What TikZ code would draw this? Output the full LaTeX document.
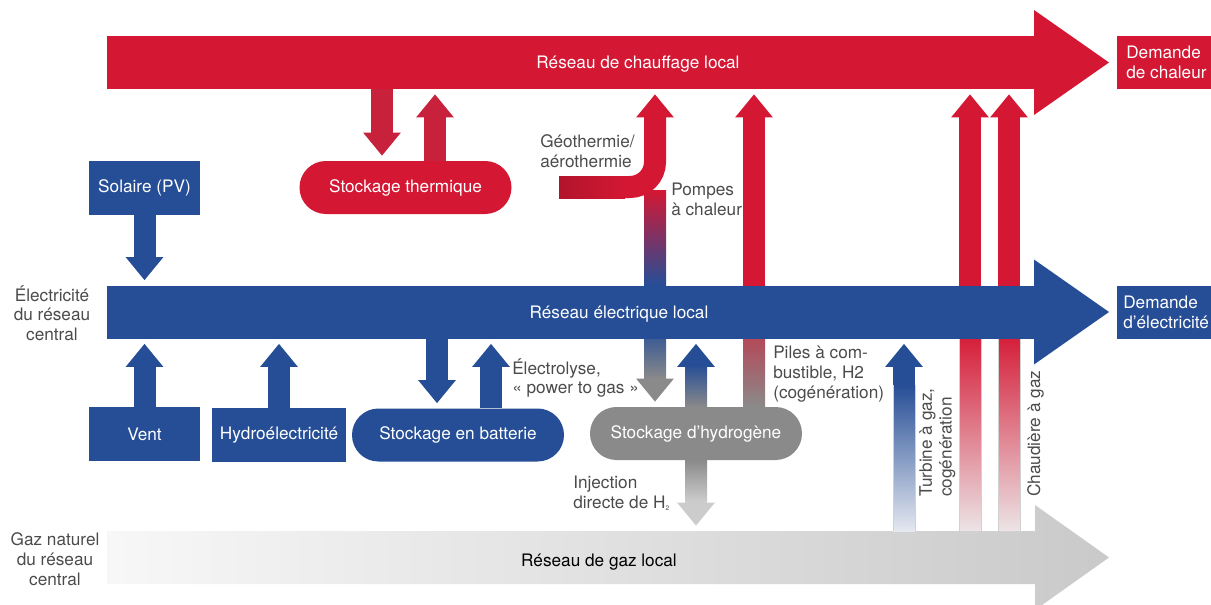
\documentclass[tikz,border=0pt]{standalone}
\usepackage{fontspec}
\setmainfont{TeX Gyre Heros}
\usetikzlibrary{arrows.meta,calc,backgrounds}

\definecolor{heatred}{RGB}{212,23,51}
\definecolor{heatdark}{RGB}{200,33,60}
\definecolor{geodark}{RGB}{178,20,44}
\definecolor{elecblue}{RGB}{38,78,150}
\definecolor{htwogray}{RGB}{138,138,138}
\definecolor{labelgray}{RGB}{75,75,75}
\definecolor{fadered}{RGB}{236,228,230}
\definecolor{fadeblue}{RGB}{228,232,240}

\tikzset{
  every node/.style={font=\fontsize{12.9}{14.8}\selectfont},
  bar/.style={minimum width=696pt, minimum height=39.75pt, inner sep=0pt},
  box/.style={fill=elecblue, text=white, minimum height=40.5pt, inner sep=0pt},
  tank/.style={text=white, minimum width=159pt, minimum height=39.75pt, rounded corners=19.8pt, inner sep=0pt},
  note/.style={text=labelgray, align=left, inner sep=0pt},
  flow/.style={line width=16.5pt, -{Triangle[width=27pt,length=17.25pt]}, shorten >=3.75pt}
}

\begin{document}
\begin{tikzpicture}[x=0.75pt,y=-0.75pt]
  \useasboundingbox (0,0) rectangle (1211,604);

  % the three networks
  \node[bar, fill=heatred] (heat) at (571,62.5) {};
  \node[bar, fill=elecblue] (elec) at (571,312) {};
  \node[bar] (gas) at (571,557.5) {};
  \fill[heatred] (1034,10) -- (1109,62.5) -- (1034,115) -- cycle;
  \fill[elecblue] (1034,259.5) -- (1109,312) -- (1034,364.5) -- cycle;
  \begin{scope}[on background layer]
    \shade[left color=gray!6, middle color=gray!11, right color=gray!42]
      (107,531) -- (1035,531) -- (1035,505) -- (1109,557.5) -- (1035,610) -- (1035,584) -- (107,584) -- cycle;
  \end{scope}
  \node[text=white] (heatname) at (638,64.5) {Réseau de chauffage local};
  \node[text=white] (elecname) at (619,314) {Réseau électrique local};
  \node (gasname) at (599,562) {Réseau de gaz local};

  % sources, storage, demand
  \node[box, minimum width=83.25pt] (solar) at (144.5,188) {Solaire (PV)};
  \node[box, minimum width=83.25pt] (wind) at (144.5,434) {Vent};
  \node[box, minimum width=100.5pt] (hydro) at (279,435) {Hydroélectricité};
  \node[tank, fill=elecblue] (battery) at (458,435) {Stockage en batterie};
  \node[tank, fill=heatred] (thermal) at (405.5,187.5) {Stockage thermique};
  \node[tank, fill=htwogray] (hydrogen) at (696,433.5) {Stockage d’hydrogène};
  \node[box, fill=heatred, align=left, anchor=west, inner xsep=6.75pt, minimum height=39.75pt] (heatdemand) at (1117,62.5) {Demande\\de chaleur};
  \node[box, align=left, anchor=west, inner xsep=4.5pt, minimum height=39.75pt] (elecdemand) at (1117,312.5) {Demande\\d’électricité};

  \node[note, align=center] (elecsource) at (52,313) {Électricité\\du réseau\\central};
  \node[note, align=center] (gassource) at (55,559) {Gaz naturel\\du réseau\\central};

  \coordinate (battin) at ($(battery.north)+(-21,0)$);
  \coordinate (battout) at ($(battery.north)+(33,0)$);
  \coordinate (thermin) at ($(thermal.north)+(-23.5,0)$);
  \coordinate (thermout) at ($(thermal.north)+(29.5,0)$);
  \coordinate (htwoin) at ($(hydrogen.north)+(-41,0)$);
  \coordinate (htwocell) at ($(hydrogen.north)+(58,0)$);
  \coordinate (pump) at (elec.north -| htwoin);
  \coordinate (geostart) at (559,187);
  \coordinate (turbine) at (904,531);
  \coordinate (boilera) at (970,531);
  \coordinate (boilerb) at (1009,531);

  % flows passing behind the electric network
  \begin{scope}[on background layer]
    \draw[flow, heatred] (htwocell) -- (htwocell |- heat.south);
    \shade[top color=heatred, bottom color=htwogray] (743,285) rectangle (765,407);
    \draw[flow, heatred] (boilera) -- (boilera |- heat.south);
    \draw[flow, heatred] (boilerb) -- (boilerb |- heat.south);
    \shadedraw[top color=heatred, bottom color=fadered, draw=black!18, line width=0.6pt] (959,330) rectangle (981,531);
    \shadedraw[top color=heatred, bottom color=fadered, draw=black!18, line width=0.6pt] (998,330) rectangle (1020,531);
    \shade[top color=heatred, bottom color=elecblue] (644,190) rectangle (666,285);
  \end{scope}

  % electricity
  \draw[flow, elecblue] (solar) -- (solar |- elec.north);
  \draw[flow, elecblue] (wind) -- (wind |- elec.south);
  \draw[flow, elecblue] (hydro) -- (hydro |- elec.south);
  \draw[flow, elecblue] (elec.south -| battin) -- (battin);
  \draw[flow, elecblue] (battout) -- (battout |- elec.south);
  \draw[flow, elecblue] (turbine) -- (turbine |- elec.south);
  \shade[top color=elecblue, bottom color=fadeblue] (893,385) rectangle (915,531);
  \draw[black!18, line width=0.6pt] (893,385) -- (893,531) (915,385) -- (915,531);

  % heat
  \draw[flow, heatdark] (heat.south -| thermin) -- (thermin);
  \draw[flow, heatdark] (thermout) -- (thermout |- heat.south);
  \draw[flow, heatred, rounded corners=18.75pt] (geostart) -- (geostart -| pump) -- (pump |- heat.south);
  \shade[left color=geodark, right color=heatred] (559,176) rectangle (625,198);

  % hydrogen
  \draw[flow, htwogray] (elec.south -| htwoin) -- (htwoin);
  \shade[top color=elecblue!75!htwogray, bottom color=htwogray] (644,339) rectangle (666,379);
  \draw[flow, elecblue] (hydrogen) -- (hydrogen |- elec.south);
  \shade[top color=elecblue, bottom color=htwogray] (685,365) rectangle (707,407);
  \draw[flow, gray!40] (hydrogen) -- (hydrogen |- gas.north);
  \shade[top color=htwogray, bottom color=gray!40] (685,460) rectangle (707,501);

  % labels
  \node[note, anchor=west] (geolabel) at (540,151) {Géothermie/\\aérothermie};
  \node[note, anchor=west] (pumplabel) at (671,199) {Pompes\\à chaleur};
  \node[note, anchor=west] (electrolysis) at (512,378) {Électrolyse,\\«~power to gas~»};
  \node[note, anchor=west] (fuelcell) at (773,374) {Piles à com-\\bustible, H2\\(cogénération)};
  \node[note, anchor=west] (injection) at (573,493) {Injection\\directe de H{\tiny\raisebox{-0.6ex}{2}}};
  \node[note, anchor=north west, rotate=90] (turbinelabel) at (919,497) {Turbine à gaz,\\cogénération};
  \node[note, anchor=north west, rotate=90] (boilerlabel) at (1027,497) {Chaudière à gaz};
\end{tikzpicture}
\end{document}
